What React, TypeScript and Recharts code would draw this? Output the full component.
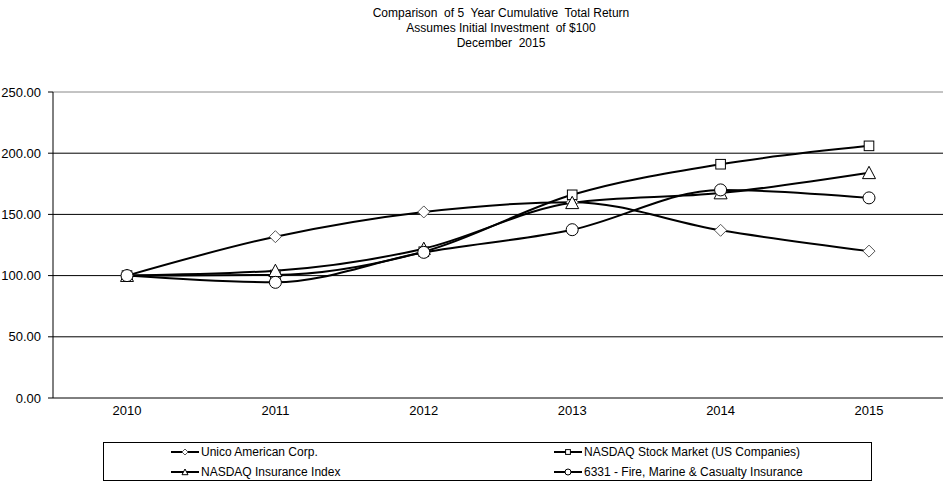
import React from "react";
import { LineChart, Line, XAxis, YAxis, ReferenceLine } from "recharts";

document.body.style.margin = "0";

const years = ["2010", "2011", "2012", "2013", "2014", "2015"];
const unico = [100, 131.8, 152, 160, 137, 120];
const nasdaqStock = [100, 100.5, 119.5, 166, 191, 206];
const nasdaqIns = [100, 104, 122, 159.5, 167.5, 184];
const fireMarine = [100, 94.5, 119, 137.5, 170, 163.5];
const yTicks = [0, 50, 100, 150, 200, 250];
const titleLines = [
  "Comparison  of 5  Year Cumulative  Total Return",
  "Assumes Initial Investment  of $100",
  "December  2015",
];

const data = years.map((year, i) => ({
  year,
  unico: unico[i],
  nasdaqStock: nasdaqStock[i],
  nasdaqIns: nasdaqIns[i],
  fireMarine: fireMarine[i],
}));

const FONT = "'Liberation Sans', Arial, sans-serif";

type Shape = "diamond" | "square" | "triangle" | "circle";

function drawMarker(shape: Shape, cx: number, cy: number, s: number, stroke: string, key?: string) {
  if (shape === "diamond") {
    return (
      <polygon
        key={key}
        points={`${cx},${cy - s} ${cx + s},${cy} ${cx},${cy + s} ${cx - s},${cy}`}
        fill="#fff"
        stroke={stroke}
        strokeWidth={1}
      />
    );
  }
  if (shape === "square") {
    const h = s * 0.8;
    return (
      <rect key={key} x={cx - h} y={cy - h} width={h * 2} height={h * 2} fill="#fff" stroke={stroke} strokeWidth={1} />
    );
  }
  if (shape === "triangle") {
    return (
      <polygon
        key={key}
        points={`${cx},${cy - s} ${cx + s},${cy + s * 0.9} ${cx - s},${cy + s * 0.9}`}
        fill="#fff"
        stroke={stroke}
        strokeWidth={1}
      />
    );
  }
  return <circle key={key} cx={cx} cy={cy} r={s} fill="#fff" stroke={stroke} strokeWidth={1} />;
}

const series: { key: string; name: string; shape: Shape; size: number; markStroke: string }[] = [
  { key: "unico", name: "Unico American Corp.", shape: "diamond", size: 6, markStroke: "#555" },
  { key: "nasdaqStock", name: "NASDAQ Stock Market (US Companies)", shape: "square", size: 6, markStroke: "#000" },
  { key: "nasdaqIns", name: "NASDAQ Insurance Index", shape: "triangle", size: 6.5, markStroke: "#000" },
  { key: "fireMarine", name: "6331 - Fire, Marine & Casualty Insurance", shape: "circle", size: 6, markStroke: "#000" },
];

function LegendItem({ s }: { s: (typeof series)[number] }) {
  return (
    <div style={{ display: "flex", alignItems: "center", height: 20 }}>
      <svg width={29} height={14} style={{ marginRight: 1 }}>
        <line x1={0} y1={7} x2={28} y2={7} stroke="#000" strokeWidth={2} />
        {drawMarker(s.shape, 14, 7, 3, s.markStroke)}
      </svg>
      <span>{s.name}</span>
    </div>
  );
}

export default function App() {
  return (
    <div style={{ position: "relative", width: 950, height: 490, background: "#fff", fontFamily: FONT }}>
      <div
        style={{
          position: "absolute",
          left: 0,
          top: 6,
          width: 1002,
          textAlign: "center",
          fontSize: 12,
          lineHeight: "15px",
          whiteSpace: "pre",
          color: "#000",
        }}
      >
        {titleLines.map((t) => (
          <div key={t}>{t}</div>
        ))}
      </div>
      <LineChart
        width={950}
        height={490}
        data={data}
        margin={{ top: 92, right: 7, bottom: 62, left: 0 }}
        style={{ position: "absolute", left: 0, top: 0 }}
      >
        <ReferenceLine y={250} stroke="#888" strokeWidth={1} />
        {yTicks.slice(1, -1).map((v) => (
          <ReferenceLine key={v} y={v} stroke="#000" strokeWidth={1} />
        ))}
        <XAxis
          dataKey="year"
          padding={{ left: 74, right: 74 }}
          axisLine={{ stroke: "#000" }}
          tickLine={false}
          tick={{ fill: "#000", fontSize: 13, fontFamily: FONT }}
          tickMargin={2}
          interval={0}
        />
        <YAxis
          domain={[0, 250]}
          ticks={yTicks}
          width={53}
          tickFormatter={(v: number) => v.toFixed(2)}
          axisLine={{ stroke: "#000" }}
          tickLine={{ stroke: "#000" }}
          tickSize={5}
          tickMargin={7}
          tick={{ fill: "#000", fontSize: 13, fontFamily: FONT }}
        />
        <YAxis
          yAxisId="border"
          orientation="right"
          domain={[0, 250]}
          width={0}
          tick={false}
          tickLine={false}
          axisLine={{ stroke: "#888" }}
        />
        {series.map((s) => (
          <Line
            key={s.key}
            dataKey={s.key}
            name={s.name}
            type="monotone"
            stroke="#000"
            strokeWidth={2}
            isAnimationActive={false}
            dot={(p: any) => drawMarker(s.shape, p.cx, p.cy, s.size, s.markStroke, `${s.key}-${p.index}`)}
            activeDot={false}
          />
        ))}
      </LineChart>
      <div
        style={{
          position: "absolute",
          left: 103,
          top: 442,
          width: 767,
          height: 37,
          border: "1px solid #000",
          fontSize: 12,
          color: "#000",
          display: "grid",
          gridTemplateColumns: "385px 382px",
          alignContent: "center",
        }}
      >
        {series.map((s, i) => (
          <div key={s.key} style={{ paddingLeft: i % 2 === 0 ? 67 : 65 }}>
            <LegendItem s={s} />
          </div>
        ))}
      </div>
    </div>
  );
}
